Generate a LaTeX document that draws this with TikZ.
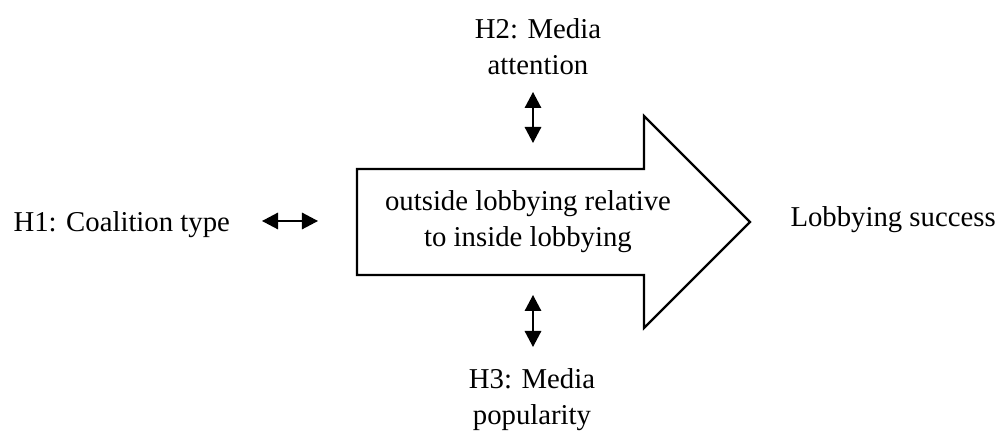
\documentclass[tikz,border=0pt]{standalone}
\usepackage{fontspec}
\setmainfont{Liberation Serif}
\usetikzlibrary{arrows.meta}
\tikzset{
	hyp/.style={font=\fontsize{11.5}{14.4}\selectfont, align=center, inner sep=0pt},
	link/.style={{Triangle[length=6.4pt,width=6.6pt]}-{Triangle[length=6.4pt,width=6.6pt]}, line width=0.6pt},
}
\begin{document}
\begin{tikzpicture}[x=0.4pt,y=-0.4pt]
	\useasboundingbox (0,0) rectangle (1003,432);
	% main arrow
	\draw[line width=0.9pt] (357,169) -- (644,169) -- (644,116) -- (750,222) -- (644,328) -- (644,275) -- (357,275) -- cycle;
	\node[hyp, anchor=base] (core) at (528,247) {outside lobbying relative\\to inside lobbying};
	% hypotheses
	\node[hyp, anchor=base west] (h1) at (13,232) {H1: Coalition type};
	\node[hyp, anchor=base] (h2) at (538,75) {H2: Media\\attention};
	\node[hyp, anchor=base] (h3) at (532,425) {H3: Media\\popularity};
	\node[hyp, anchor=base west] (success) at (790,227) {Lobbying success};
	% double arrows
	\coordinate (h1a) at (262,221);
	\coordinate (h1b) at (318,221);
	\coordinate (h2a) at (533,92);
	\coordinate (h2b) at (533,143);
	\coordinate (h3a) at (533,295);
	\coordinate (h3b) at (533,347);
	\draw[link] (h1a) -- (h1b);
	\draw[link] (h2a) -- (h2b);
	\draw[link] (h3a) -- (h3b);
\end{tikzpicture}
\end{document}
